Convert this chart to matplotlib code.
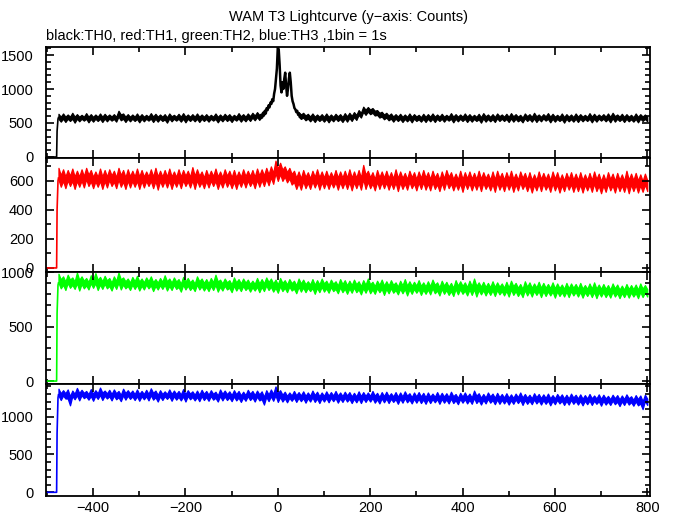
import numpy as np
from matplotlib import pyplot as plt
from matplotlib.ticker import MultipleLocator

plt.rcParams['font.family'] = ['Liberation Sans', 'DejaVu Sans']

# 10 s bins starting at -475 s, upper / lower edge of the noise band
t_bins = np.arange(-475, 800, 10)

th0_hi = [635, 640, 625, 650, 630, 620, 645, 630, 625, 640, 635, 625, 630, 680, 640, 630,
          625, 640, 630, 620, 645, 635, 625, 630, 640, 620, 635, 645, 625, 630, 640, 625,
          630, 620, 640, 625, 635, 630, 620, 645, 630, 640, 650, 660, 700, 820, 1100, 1620,
          1240, 1240, 900, 700, 660, 650, 635, 640, 625, 630, 640, 625, 635, 630, 645, 650,
          660, 690, 740, 735, 720, 690, 665, 650, 640, 630, 635, 625, 640, 630, 620, 635,
          630, 640, 625, 635, 620, 645, 630, 625, 640, 630, 620, 635, 645, 625, 630, 640,
          625, 635, 645, 630, 620, 640, 630, 650, 625, 630, 645, 635, 620, 640, 630, 625,
          640, 630, 620, 645, 635, 625, 630, 640, 650, 625, 635, 630, 620, 640, 630, 625]
th0_lo = [520, 515, 530, 505, 525, 535, 510, 520, 530, 515, 525, 535, 520, 540, 515, 525,
          530, 510, 525, 535, 515, 520, 530, 505, 525, 535, 520, 510, 530, 525, 515, 530,
          520, 535, 510, 525, 530, 515, 535, 520, 525, 530, 540, 545, 580, 640, 780, 950,
          900, 860, 780, 620, 560, 540, 525, 515, 530, 520, 510, 525, 530, 515, 520, 530,
          545, 580, 620, 630, 610, 580, 555, 540, 520, 530, 515, 525, 510, 530, 520, 515,
          525, 515, 530, 520, 535, 510, 525, 530, 515, 520, 530, 505, 520, 525, 515, 530,
          530, 515, 520, 525, 510, 530, 520, 515, 525, 535, 510, 520, 530, 505, 525, 520,
          515, 525, 530, 510, 520, 535, 525, 510, 520, 530, 515, 525, 520, 510, 530, 525]

# the burst itself, 2 s steps from -40 s to 50 s
burst_t = np.arange(-40, 52, 2)
burst_v = [600, 560, 620, 580, 650, 610, 680, 640, 720, 690,
           760, 730, 800, 780, 850, 820, 930, 1000, 1150, 1300,
           1620, 1580, 1350, 1050, 950, 1100, 1000, 1150, 1240, 1050,
           900, 1000, 1150, 1240, 1100, 900, 820, 780, 720, 700,
           660, 680, 620, 640, 590, 610]

th1_hi = [690, 680, 675, 685, 670, 680, 690, 675, 665, 685, 675, 680, 670, 690, 675, 680,
          670, 685, 675, 665, 680, 690, 670, 675, 685, 665, 680, 675, 670, 695, 680, 665,
          675, 670, 685, 665, 680, 670, 675, 665, 680, 670, 675, 685, 680, 690, 700, 740,
          725, 700, 690, 670, 665, 675, 660, 670, 680, 665, 670, 660, 675, 665, 670, 680,
          665, 675, 710, 670, 660, 675, 665, 670, 660, 680, 665, 655, 670, 660, 665, 675,
          660, 670, 655, 665, 675, 660, 650, 670, 660, 665, 655, 670, 660, 650, 665, 670,
          655, 660, 670, 650, 665, 655, 660, 645, 665, 655, 650, 665, 660, 645, 655, 660,
          650, 660, 645, 655, 665, 650, 645, 660, 650, 655, 645, 670, 650, 655, 645, 650]
th1_lo = [560, 550, 565, 545, 560, 555, 565, 550, 560, 545, 555, 565, 550, 560, 545, 555,
          560, 545, 555, 565, 550, 540, 560, 555, 545, 560, 550, 565, 555, 545, 560, 550,
          555, 565, 545, 555, 560, 550, 545, 560, 555, 565, 550, 560, 565, 570, 580, 600,
          600, 590, 575, 545, 540, 550, 545, 555, 540, 550, 545, 555, 540, 550, 545, 535,
          550, 540, 545, 550, 535, 545, 550, 540, 545, 530, 545, 540, 550, 535, 545, 540,
          535, 545, 530, 540, 550, 535, 540, 525, 545, 535, 540, 530, 545, 535, 525, 540,
          530, 540, 525, 535, 545, 530, 520, 535, 530, 540, 525, 535, 520, 530, 540, 525,
          530, 520, 535, 525, 530, 515, 525, 535, 520, 530, 525, 515, 530, 520, 525, 530]

th2_hi = [985, 960, 975, 950, 995, 960, 945, 970, 990, 955, 965, 945, 960, 995, 950, 940,
          955, 965, 940, 950, 960, 935, 945, 970, 940, 950, 935, 955, 945, 930, 960, 940,
          935, 945, 975, 930, 940, 925, 950, 935, 940, 930, 920, 945, 935, 950, 940, 930,
          945, 925, 935, 920, 940, 930, 915, 935, 925, 940, 920, 930, 915, 935, 925, 920,
          930, 915, 925, 940, 910, 920, 930, 915, 925, 905, 920, 935, 915, 910, 925, 905,
          915, 930, 905, 920, 910, 900, 925, 915, 905, 920, 940, 905, 910, 900, 915, 905,
          895, 910, 920, 900, 890, 915, 905, 895, 910, 900, 890, 905, 895, 885, 900, 895,
          890, 900, 880, 895, 905, 885, 890, 880, 895, 885, 875, 890, 880, 885, 895, 880]
th2_lo = [850, 835, 855, 845, 830, 850, 840, 855, 835, 845, 850, 830, 845, 840, 850, 835,
          845, 830, 840, 850, 825, 840, 845, 830, 835, 845, 820, 840, 835, 825, 840, 830,
          825, 835, 820, 830, 840, 815, 830, 825, 835, 820, 830, 815, 825, 835, 820, 810,
          825, 815, 830, 805, 820, 815, 825, 800, 815, 820, 810, 825, 805, 815, 800, 810,
          815, 795, 810, 805, 800, 815, 790, 805, 810, 795, 805, 785, 800, 810, 790, 800,
          795, 805, 785, 800, 790, 780, 795, 800, 785, 790, 775, 795, 785, 790, 780, 795,
          785, 775, 790, 780, 770, 785, 775, 790, 770, 780, 785, 765, 780, 775, 770, 785,
          775, 765, 780, 770, 760, 775, 770, 765, 775, 760, 770, 765, 775, 760, 770, 775]

th3_hi = [1370, 1350, 1360, 1345, 1380, 1355, 1340, 1365, 1350, 1385, 1345, 1355, 1360, 1340, 1370, 1350,
          1345, 1360, 1340, 1355, 1375, 1345, 1350, 1335, 1360, 1345, 1340, 1365, 1350, 1335, 1345, 1355,
          1340, 1350, 1330, 1360, 1345, 1335, 1350, 1340, 1330, 1355, 1340, 1345, 1335, 1350, 1360, 1400,
          1350, 1330, 1320, 1340, 1325, 1335, 1320, 1345, 1330, 1320, 1335, 1325, 1340, 1320, 1330, 1325,
          1315, 1335, 1325, 1320, 1340, 1315, 1325, 1330, 1310, 1325, 1320, 1335, 1310, 1320, 1325, 1315,
          1320, 1305, 1325, 1315, 1310, 1330, 1300, 1315, 1320, 1305, 1345, 1310, 1300, 1320, 1305, 1315,
          1300, 1310, 1295, 1305, 1320, 1300, 1290, 1310, 1300, 1295, 1305, 1285, 1300, 1295, 1290, 1305,
          1290, 1295, 1285, 1300, 1280, 1295, 1290, 1275, 1290, 1285, 1280, 1295, 1270, 1285, 1280, 1290]
th3_lo = [1220, 1240, 1150, 1230, 1215, 1245, 1225, 1210, 1235, 1220, 1240, 1215, 1230, 1205, 1225, 1235,
          1220, 1210, 1230, 1215, 1225, 1200, 1220, 1235, 1210, 1225, 1215, 1200, 1230, 1215, 1205, 1220,
          1210, 1225, 1200, 1215, 1220, 1205, 1215, 1195, 1210, 1220, 1200, 1215, 1160, 1205, 1210, 1195,
          1200, 1190, 1210, 1195, 1205, 1185, 1200, 1195, 1180, 1200, 1190, 1205, 1185, 1195, 1200, 1180,
          1190, 1180, 1195, 1200, 1185, 1175, 1190, 1180, 1195, 1170, 1185, 1190, 1175, 1185, 1180, 1170,
          1180, 1190, 1170, 1185, 1175, 1180, 1165, 1185, 1175, 1170, 1180, 1160, 1175, 1185, 1165, 1170,
          1175, 1160, 1170, 1180, 1155, 1170, 1165, 1175, 1160, 1170, 1150, 1165, 1175, 1155, 1160, 1170,
          1160, 1150, 1165, 1155, 1170, 1145, 1160, 1155, 1165, 1140, 1155, 1160, 1145, 1150, 1100, 1155]

# before the trigger window the counts are zero, then a two-step rise at ~ -478 s
onset_t = [-505, -479, -478, -476, -475]
th0_on = [0, 0, 380, 560, 580]
th1_on = [0, 0, 400, 600, 620]
th2_on = [0, 0, 620, 880, 900]
th3_on = [0, 0, 780, 1250, 1290]

colors = ["black", "red", "#00ff00", "blue"]
ylims = [(-15, 1618), (-28, 758), (-27, 1000), (-49, 1432)]
ymajor = [500, 200, 500, 500]
series = [(th0_hi, th0_lo, th0_on), (th1_hi, th1_lo, th1_on),
          (th2_hi, th2_lo, th2_on), (th3_hi, th3_lo, th3_on)]


def band(ax, t, lo, hi, c):
    # saw-tooth band: upper edge at the bin start, lower edge half a bin later
    x = np.column_stack([t, t + 5]).ravel()
    top = np.column_stack([hi, (hi + lo) / 2 + 15]).ravel()
    bot = np.column_stack([(hi + lo) / 2 - 15, lo]).ravel()
    ax.fill_between(x, bot, top, color=c, lw=0.9)


fig = plt.figure(figsize=(6.74, 5.15), dpi=100)
gs = fig.add_gridspec(4, 1, height_ratios=[111, 114, 112, 112], hspace=0,
                      left=46 / 674, right=650 / 674, top=1 - 47 / 515, bottom=1 - 496 / 515)

for i in range(4):
    ax = fig.add_subplot(gs[i])
    c = colors[i]
    hi, lo, on = series[i]
    hi = np.array(hi, float)
    lo = np.array(lo, float)
    ax.plot(onset_t, on, color=c, lw=1.2)
    if i == 0:
        # black: band outside the burst, the burst itself as a line
        for m in [t_bins < -40, t_bins > 40]:
            band(ax, t_bins[m], lo[m], hi[m], c)
        ax.plot(burst_t, burst_v, color=c, lw=1.8)
    else:
        band(ax, t_bins, lo, hi, c)
    ax.set_xlim(-502, 806)
    ax.set_ylim(*ylims[i])
    ax.xaxis.set_major_locator(MultipleLocator(200))
    ax.xaxis.set_minor_locator(MultipleLocator(100))
    ax.yaxis.set_major_locator(MultipleLocator(ymajor[i]))
    ax.yaxis.set_minor_locator(MultipleLocator(100))
    ax.tick_params(which="both", direction="in", top=True, right=True, width=1.2, labelsize=10.5)
    ax.tick_params(which="major", length=6)
    ax.tick_params(which="minor", length=3.5)
    ax.tick_params(axis="y", pad=9)
    for s in ax.spines.values():
        s.set_linewidth(1.3)
    if i < 3:
        ax.tick_params(labelbottom=False)

fig.text(349 / 674, 1 - 17 / 515, "WAM T3 Lightcurve (y\u2212axis: Counts)", ha="center", va="center", fontsize=10.5)
fig.text(46 / 674, 1 - 36 / 515, "black:TH0, red:TH1, green:TH2, blue:TH3 ,1bin = 1s", ha="left", va="center", fontsize=10.5)

plt.savefig("out.png", dpi=100)
